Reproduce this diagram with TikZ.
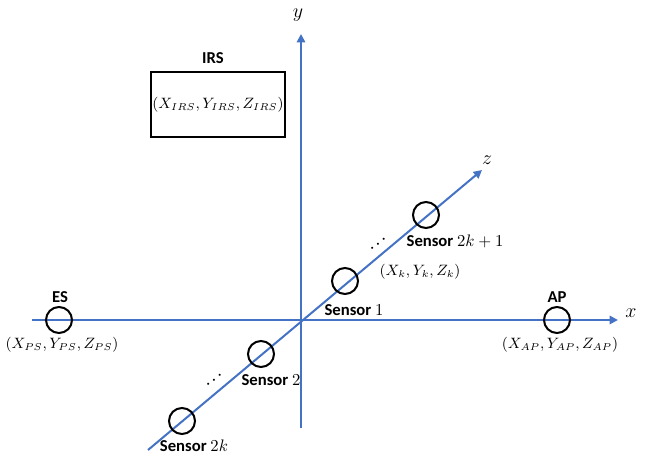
\documentclass[tikz,border=0pt]{standalone}
\usepackage[no-math]{fontspec}
\newfontfamily\calib{Carlito}
\usetikzlibrary{arrows.meta}
\DeclareMathSizes{9}{9}{5.6}{4.5}
\definecolor{axisblue}{RGB}{68,114,196}
\tikzset{
  axis/.style={draw=axisblue, line width=1.2pt, -{Triangle[length=5pt,width=5pt]}},
  dev/.style={draw, circle, line width=1.2pt, minimum size=15.6pt, inner sep=0pt},
  tag/.style={font=\calib\bfseries\fontsize{10}{12}\selectfont, inner sep=1pt},
  coordlabel/.style={font=\fontsize{9}{11}\selectfont, inner sep=1pt},
  dotslabel/.style={font=\fontsize{8}{9}\selectfont\boldmath, inner sep=0pt, rotate=37},
}
\begin{document}
\begin{tikzpicture}[x=0.6pt,y=-0.6pt]
\useasboundingbox (0,0) rectangle (659,455);
% axes
\coordinate (xs) at (32,320);
\coordinate (xe) at (618,320);
\coordinate (ys) at (301,428);
\coordinate (ye) at (301,34);
\coordinate (zs) at (148,450);
\coordinate (ze) at (482,170);
\draw[axis] (xs) -- (xe);
\draw[axis] (ys) -- (ye);
\draw[axis] (zs) -- (ze);
\node[font=\fontsize{12}{14}\selectfont] (xl) at (631,313) {$x$};
\node[font=\fontsize{12}{14}\selectfont] (yl) at (298,15) {$y$};
\node[font=\fontsize{12}{14}\selectfont] (zl) at (487,160) {$z$};

% IRS
\node[tag] (irs) at (213,58) {IRS};
\node[draw, line width=1.2pt, minimum width=73pt, minimum height=39pt, coordlabel] (irsbox) at (218,105) {$(X_{IRS},Y_{IRS},Z_{IRS})$};

% ES and AP
\node[dev] (es) at (59,320) {};
\node[tag] (esl) at (60,297) {ES};
\node[coordlabel] (esp) at (62,345) {$(X_{PS},Y_{PS},Z_{PS})$};
\node[dev] (ap) at (557,320) {};
\node[tag] (apl) at (557,297) {AP};
\node[coordlabel] (app) at (560,345) {$(X_{AP},Y_{AP},Z_{AP})$};

% sensors
\node[dev] (s2k1) at (426,215) {};
\node[dev] (s1) at (345,281) {};
\node[dev] (s2) at (261,354) {};
\node[dev] (s2k) at (182,421) {};
\node[tag] (s2k1l) at (455,241) {Sensor \mdseries$2k+1$};
\node[coordlabel] (skp) at (420,272) {$(X_k,Y_k,Z_k)$};
\node[tag] (s1l) at (354,310) {Sensor \mdseries$1$};
\node[tag] (s2l) at (271,380) {Sensor \mdseries$2$};
\node[tag] (s2kl) at (194,446) {Sensor \mdseries$2k$};
\node[dotslabel] (dots1) at (378,244) {$\ldots$};
\node[dotslabel] (dots2) at (214,380) {$\ldots$};
\end{tikzpicture}
\end{document}
